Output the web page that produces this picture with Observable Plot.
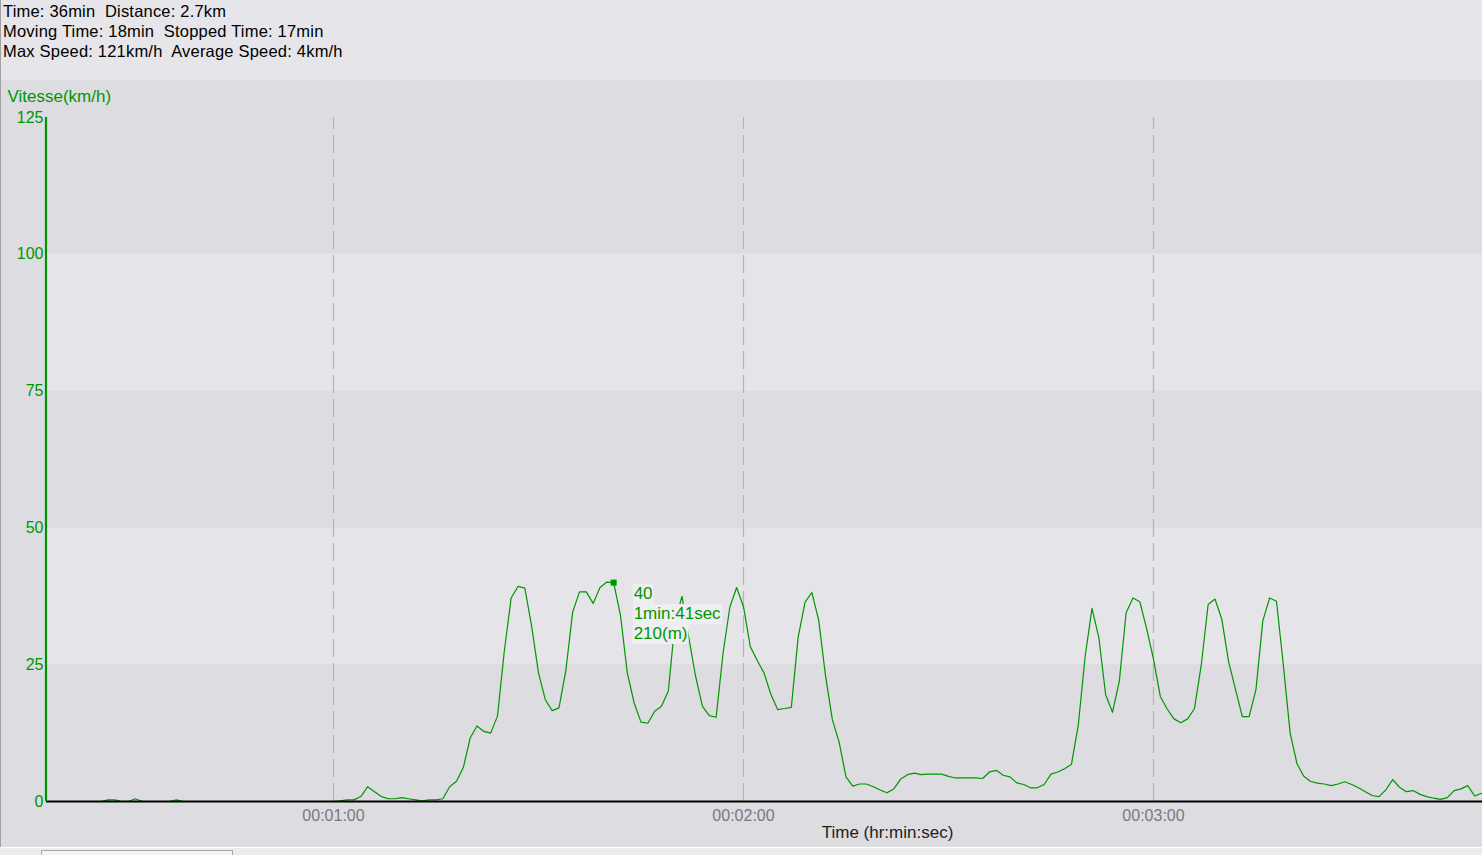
<!DOCTYPE html>
<html>
<head>
<meta charset="utf-8">
<script src="https://cdn.jsdelivr.net/npm/d3@7"></script>
<script src="https://cdn.jsdelivr.net/npm/@observablehq/plot@0.6"></script>
<style>
  html, body { margin: 0; padding: 0; width: 1482px; height: 855px; overflow: hidden; background: #dcdce1; font-family: "Liberation Sans", Arial, sans-serif; }
  #wrap { position: relative; width: 1482px; height: 855px; }
  #header { height: 80px; background: #e5e5ea; padding: 1px 0 0 3px; box-sizing: border-box; font-size: 16.5px; letter-spacing: 0.2px; line-height: 20px; color: #000; white-space: pre; }
  #chart svg { display: block; }
  #leftborder { position: absolute; left: 0; top: 0; width: 1px; height: 847px; background: #a0a0a0; }
  #strip { position: absolute; left: 0; top: 847px; width: 1482px; height: 8px; background: #ececec; border-top: 1px solid #ffffff; box-sizing: border-box; }
  #thumb { position: absolute; left: 41px; top: 2px; width: 192px; height: 8px; border: 1px solid #a8a8a8; box-sizing: border-box; background: #f4f4f4; }
</style>
</head>
<body>
<div id="wrap">
  <div id="header"></div>
  <div id="chart"></div>
  <div id="leftborder"></div>
  <div id="strip"><div id="thumb"></div></div>
</div>
<script>
// ---- data ----
const headerLines = [
  "Time: 36min  Distance: 2.7km",
  "Moving Time: 18min  Stopped Time: 17min",
  "Max Speed: 121km/h  Average Speed: 4km/h"
];
const yLabel = "Vitesse(km/h)";
const xLabel = "Time (hr:min:sec)";
const startSecond = 18;          // first sample (seconds)
const speeds = [                 // km/h, one sample per second from startSecond
  0, 0,
  0, 0, 0, 0, 0, 0, 0, 0.3, 0.3, 0,
  0, 0.5, 0, 0, 0, 0, 0, 0.3, 0, 0,
  0, 0, 0, 0, 0, 0, 0, 0, 0, 0,
  0, 0, 0, 0, 0, 0, 0, 0, 0, 0,
  0, 0.1, 0.3, 0.3, 0.9, 2.7, 1.8, 0.9, 0.5, 0.5,
  0.7, 0.5, 0.3, 0.1, 0.3, 0.3, 0.5, 2.7, 3.7, 6.2,
  11.6, 13.8, 12.8, 12.5, 15.6, 27.5, 37.2, 39.3, 39, 32,
  23.5, 18.6, 16.6, 17.1, 23.9, 34.6, 38.3, 38.3, 36.2, 39.1,
  40.1, 40, 34, 23.5, 18, 14.5, 14.3, 16.5, 17.4, 20.2,
  33, 37.5, 29.9, 22.8, 17.4, 15.7, 15.4, 27, 35.5, 39.1,
  35.6, 28.3, 25.8, 23.5, 19.6, 16.8, 17, 17.2, 30, 36.4,
  38.2, 33.2, 23, 15, 10.8, 4.5, 2.8, 3.2, 3.2, 2.7,
  2.1, 1.6, 2.3, 4.1, 4.9, 5.2, 4.9, 5, 5, 5,
  4.6, 4.3, 4.3, 4.3, 4.3, 4.2, 5.4, 5.7, 4.8, 4.5,
  3.4, 3.1, 2.5, 2.5, 3.1, 5.0, 5.4, 6.0, 6.8, 14,
  26.5, 35.3, 30, 19.5, 16.3, 22, 34.5, 37.2, 36.5, 31.6,
  26, 19.2, 16.9, 15.1, 14.4, 15.1, 17, 25, 36, 37,
  33.3, 25.5, 20.5, 15.5, 15.5, 20.5, 33, 37.2, 36.6, 25,
  12.5, 6.9, 4.6, 3.65, 3.35, 3.2, 2.9, 3.2, 3.6, 3.1,
  2.5, 1.8, 1.1, 0.9, 2.1, 4.0, 2.6, 1.8, 2.0, 1.3,
  0.9, 0.6, 0.4, 0.7, 2.0, 2.3, 2.9, 1.0, 1.5
];
const xDomain = [18, 228.15];
const xTicks = [60, 120, 180];
const yTicks = [0, 25, 50, 75, 100, 125];
const bandLows  = [0, 25, 50, 75, 100];
const bandHighs = [25, 50, 75, 100, 125];
const bandShade = ["dark", "light", "dark", "light", "dark"];
const tipTime = 101;
const tipSpeed = 40;
const tipLines = ["40", "1min:41sec", "210(m)"];

// ---- build ----
const GREEN = "#009600";
document.getElementById("header").textContent = headerLines.join("\n");

const series = speeds.map((v, i) => ({t: startSecond + i, v}));
const bands = bandLows.map((lo, i) => ({lo, hi: bandHighs[i], shade: bandShade[i]}));
const fmt = s => {
  const h = Math.floor(s / 3600), m = Math.floor((s % 3600) / 60), sec = s % 60;
  return [h, m, sec].map(n => String(n).padStart(2, "0")).join(":");
};

const tipMarks = tipLines.map((line, i) =>
  Plot.text([{t: tipTime, v: tipSpeed, line}], {
    x: "t", y: "v", text: "line", dx: 20, dy: 11 + i * 20,
    textAnchor: "start", lineAnchor: "middle", fill: GREEN, fontSize: 17
  })
);

const chart = Plot.plot({
  width: 1482,
  height: 767,
  marginTop: 37,
  marginLeft: 46,
  marginRight: 0,
  marginBottom: 46,
  style: {fontFamily: "'Liberation Sans', Arial, sans-serif", fontSize: "16px", background: "transparent", overflow: "visible"},
  x: {domain: xDomain, ticks: xTicks, tickFormat: fmt},
  y: {domain: [0, 125], ticks: yTicks},
  marks: [
    Plot.rect(bands, {y1: "lo", y2: "hi", fill: d => d.shade === "light" ? "#e4e4e9" : "#dcdce1"}),
    Plot.ruleX(xTicks, {y1: 0, y2: 125, stroke: "#b5b5b5", strokeWidth: 1.2, strokeDasharray: "18,6"}),
    Plot.axisX({ticks: xTicks, tickFormat: fmt, tickSize: 0, tickPadding: 8, fill: "#7a7a7a", label: null, fontSize: 16}),
    Plot.axisY({ticks: yTicks, tickSize: 0, tickPadding: 3, fill: GREEN, label: null, fontSize: 16}),
    Plot.line(series, {x: "t", y: "v", stroke: GREEN, strokeWidth: 1.2}),
    Plot.ruleY([0], {stroke: "#000", strokeWidth: 2.2}),
    Plot.ruleX([xDomain[0]], {y1: 0, y2: 125, stroke: GREEN, strokeWidth: 2.2, dx: -0.5}),
    Plot.text([yLabel], {frameAnchor: "top-left", dx: -39, dy: -21, textAnchor: "start", lineAnchor: "middle", fill: GREEN, fontSize: 17}),
    Plot.text([xLabel], {frameAnchor: "bottom", dx: 123, dy: 31, lineAnchor: "middle", fill: "#1e1e1e", fontSize: 17}),
    Plot.dot([{t: tipTime, v: tipSpeed}], {x: "t", y: "v", symbol: "square", r: 3.4, fill: GREEN, stroke: "none"}),
    ...tipMarks
  ]
});

document.getElementById("chart").appendChild(chart);

// light background boxes behind the tooltip lines
chart.querySelectorAll("text").forEach(t => {
  if (!tipLines.includes(t.textContent)) return;
  if (t.closest('g[aria-label="y-axis tick label"], g[aria-label="x-axis tick label"]')) return;
  const b = t.getBBox();
  const r = document.createElementNS("http://www.w3.org/2000/svg", "rect");
  r.setAttribute("x", b.x - 1);
  r.setAttribute("y", b.y);
  r.setAttribute("width", b.width + 2);
  r.setAttribute("height", b.height + 1);
  r.setAttribute("fill", "#efeff3");
  const tr = t.getAttribute("transform");
  if (tr) r.setAttribute("transform", tr);
  t.parentNode.insertBefore(r, t);
});
</script>
</body>
</html>
